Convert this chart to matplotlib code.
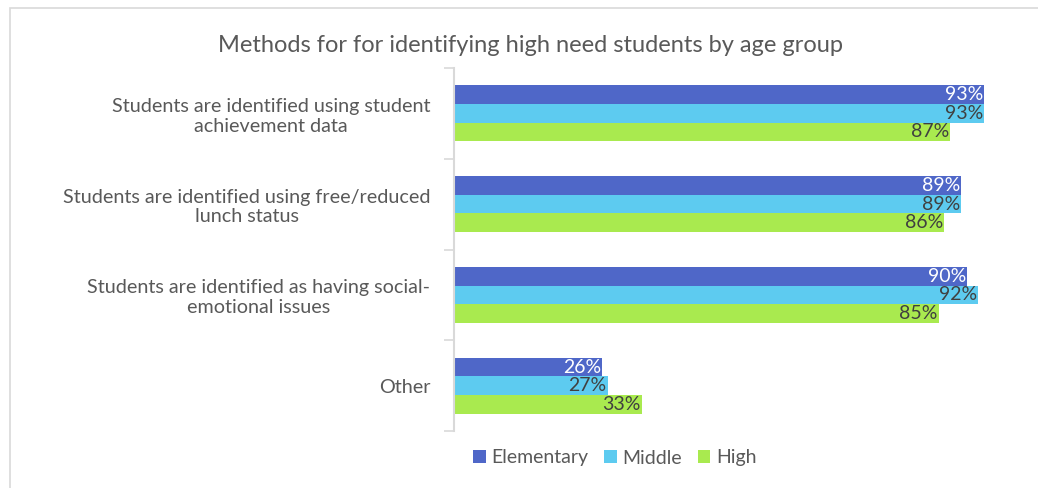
import matplotlib
matplotlib.use('Agg')
import matplotlib.pyplot as plt
from matplotlib.patches import Rectangle
import numpy as np

# chart data
categories = ['Students are identified using student\nachievement data',
              'Students are identified using free/reduced\nlunch status',
              'Students are identified as having social-\nemotional issues',
              'Other']
series_names = ['Elementary', 'Middle', 'High']
elementary = [93, 89, 90, 26]
middle = [93, 89, 92, 27]
high = [87, 86, 85, 33]

colors = ['#4F67C8', '#5DCBF0', '#A9EA4F']
label_colors = ['white', '#404040', '#404040']
gray = '#595959'

plt.rcParams['font.family'] = ['Lato', 'DejaVu Sans']

fig = plt.figure(figsize=(10.38, 4.88), dpi=100)
ax = fig.add_axes([454/1038, 1-431/488, 570/1038, 363/488])

# outer chart border
fig.patches.append(Rectangle((10/1038, -0.1), 1.2, 1-8/488+0.1, transform=fig.transFigure,
                             fill=False, edgecolor='#D9D9D9', lw=1.2))

bh = 0.205
y = np.arange(len(categories))
for i, (vals, name) in enumerate(zip([elementary, middle, high], series_names)):
    pos = y + (i - 1) * bh
    bars = ax.barh(pos, vals, height=bh, color=colors[i], label=name)
    for p, v in zip(pos, vals):
        ax.text(v - 0.2, p, f'{v}%', ha='right', va='center', fontsize=14,
                color=label_colors[i])

ax.set_xlim(0, 100)
ax.set_ylim(len(categories) - 0.5, -0.5)
ax.set_xticks([])
ax.set_yticks(y)
ax.set_yticklabels(categories, fontsize=14.2, color=gray, multialignment='center')
ax.tick_params(axis='y', which='major', length=0, pad=17)
ax.set_yticks(np.arange(-0.5, len(categories)), minor=True)
ax.tick_params(axis='y', which='minor', length=7, width=1.2, color='#D9D9D9')
for s in ['top', 'right', 'bottom']:
    ax.spines[s].set_visible(False)
ax.spines['left'].set_color('#D9D9D9')
ax.spines['left'].set_linewidth(1.5)

fig.text(530/1038, 1-45/488, 'Methods for for identifying high need students by age group',
         ha='center', va='center', fontsize=17, color=gray)

fig.legend(loc='center', bbox_to_anchor=(615/1038, 1-458/488), ncol=3, frameon=False,
           fontsize=14, labelcolor=gray, handlelength=0.65, handleheight=0.65,
           handletextpad=0.3, columnspacing=0.8)

fig.savefig('out.png', dpi=100)
